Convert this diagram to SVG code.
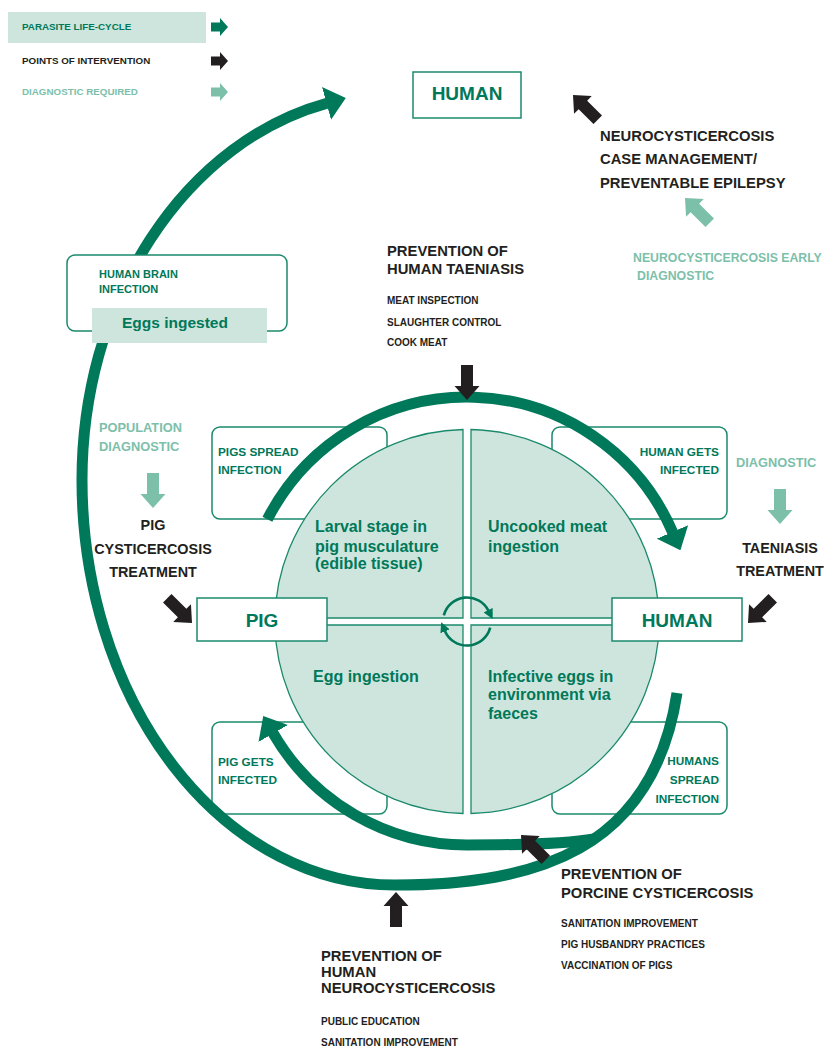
<svg xmlns="http://www.w3.org/2000/svg" xmlns:xlink="http://www.w3.org/1999/xlink" width="824" height="1047" viewBox="0 0 824 1047">
<style>
text{font-family:"Liberation Sans",Arial,sans-serif;font-weight:bold}
.g{fill:#00785a}
.k{fill:#231f20}
.d{fill:#7cc0aa}
.box{fill:#fff;stroke:#1b8a6c;stroke-width:1.5}
.q{fill:#cde5dc;stroke:#1b8a6c;stroke-width:1.3}
.flow{fill:none;stroke:#00785a;stroke-width:11}
.mini{fill:none;stroke:#00785a;stroke-width:2.6}
.lg{font-size:9.8px}
.h{font-size:14.8px}
.s{font-size:10px}
.bl{font-size:11.8px}
.qt{font-size:16px}
.dg{font-size:12.8px}
.tr{font-size:14.4px}
.nm{font-size:19px}
</style>
<defs>
<marker id="ah" markerUnits="userSpaceOnUse" markerWidth="20" markerHeight="34" viewBox="0 0 20 34" refX="0.5" refY="17" orient="auto"><path d="M0,0 L20,17 L0,34 Z" fill="#00785a"/></marker>
<marker id="ahs" markerUnits="userSpaceOnUse" markerWidth="10" markerHeight="10" viewBox="0 0 10 10" refX="0.5" refY="5" orient="auto"><path d="M0,0 L10,5 L0,10 Z" fill="#00785a"/></marker>
<path id="ba" d="M-35,-6 L-14,-6 L-14,-12.5 L0,0 L-14,12.5 L-14,6 L-35,6 Z"/>
<path id="la" d="M-17,-4.5 L-8,-4.5 L-8,-9 L0,0 L-8,9 L-8,4.5 L-17,4.5 Z"/>
</defs>

<g id="legend">
<rect x="8" y="12" width="198" height="31" fill="#cde5dc"/>
<text x="22" y="30" class="g lg">PARASITE LIFE-CYCLE</text>
<text x="22" y="64" class="k lg">POINTS OF INTERVENTION</text>
<text x="22" y="94.5" class="d lg">DIAGNOSTIC REQUIRED</text>
<use xlink:href="#la" href="#la" transform="translate(228,27)" fill="#00785a"/>
<use xlink:href="#la" href="#la" transform="translate(228,61)" fill="#231f20"/>
<use xlink:href="#la" href="#la" transform="translate(228,92)" fill="#7cc0aa"/>
</g>

<g id="pigs-spread">
<rect class="box" x="212" y="427" width="175" height="92" rx="8"/>
<text x="218" y="456" class="g bl">PIGS SPREAD</text>
<text x="218" y="474" class="g bl">INFECTION</text>
</g>
<g id="human-gets-infected">
<rect class="box" x="552" y="427" width="175" height="92" rx="8"/>
<text x="719" y="456" class="g bl" text-anchor="end">HUMAN GETS</text>
<text x="719" y="474" class="g bl" text-anchor="end">INFECTED</text>
</g>
<g id="pig-gets-infected">
<rect class="box" x="212" y="722" width="175" height="92" rx="8"/>
<text x="218" y="766" class="g bl">PIG GETS</text>
<text x="218" y="784" class="g bl">INFECTED</text>
</g>
<g id="humans-spread">
<rect class="box" x="552" y="722" width="175" height="92" rx="8"/>
<text x="719" y="765" class="g bl" text-anchor="end">HUMANS</text>
<text x="719" y="784" class="g bl" text-anchor="end">SPREAD</text>
<text x="719" y="803" class="g bl" text-anchor="end">INFECTION</text>
</g>

<g id="cycle-circle">
<path class="q" d="M463,618 L463,429.5 A192,192 0 0 0 275,618 Z"/>
<path class="q" d="M471,618 L659,618 A192,192 0 0 0 471,429.5 Z"/>
<path class="q" d="M463,625 L275,625 A192,192 0 0 0 463,813.5 Z"/>
<path class="q" d="M471,625 L471,813.5 A192,192 0 0 0 659,625 Z"/>
<text x="315" y="532" class="g qt">Larval stage in</text>
<text x="315" y="552" class="g qt">pig musculature</text>
<text x="315" y="569" class="g qt">(edible tissue)</text>
<text x="488" y="532" class="g qt">Uncooked meat</text>
<text x="488" y="552" class="g qt">ingestion</text>
<text x="313" y="682" class="g qt">Egg ingestion</text>
<text x="488" y="682" class="g qt">Infective eggs in</text>
<text x="488" y="700" class="g qt">environment via</text>
<text x="488" y="719" class="g qt">faeces</text>
</g>

<g id="connectors">
<path class="flow" marker-end="url(#ah)" d="M677,693 C653,851 535,885 395,885 A313,405 0 0 1 82,480 A313,386 0 0 1 327,103.2"/>
<path class="flow" marker-end="url(#ah)" d="M267.4,519.3 A224,224 0 0 1 672.7,532.4"/>
<path class="flow" marker-end="url(#ah)" d="M594,839 C560,845 500,845 467,845 A224,224 0 0 1 273,733"/>
<path class="mini" marker-end="url(#ahs)" d="M443.8,615.3 A24,24 0 0 1 488.4,610.6"/>
<path class="mini" marker-end="url(#ahs)" d="M490.2,627.7 A24,24 0 0 1 444.9,630.9"/>
</g>

<g id="human-brain">
<rect class="box" x="67" y="255" width="220" height="76" rx="8"/>
<text x="99" y="278" class="g" font-size="11px">HUMAN BRAIN</text>
<text x="99" y="292.7" class="g" font-size="11px">INFECTION</text>
<rect x="92" y="308" width="175" height="35" fill="#cde5dc"/>
<text x="122" y="327.5" class="g" font-size="15.5px">Eggs ingested</text>
</g>

<g id="human-top">
<rect class="box" x="413" y="72" width="108" height="46"/>
<text x="467" y="99.5" class="g nm" text-anchor="middle">HUMAN</text>
</g>
<g id="pig">
<rect class="box" x="197" y="598" width="130" height="43"/>
<text x="262" y="626.5" class="g nm" text-anchor="middle">PIG</text>
</g>
<g id="human">
<rect class="box" x="612" y="598" width="130" height="43"/>
<text x="677" y="626.5" class="g nm" text-anchor="middle">HUMAN</text>
</g>

<g id="nc-case-management">
<text x="600" y="140.5" class="k h">NEUROCYSTICERCOSIS</text>
<text x="600" y="164" class="k h">CASE MANAGEMENT/</text>
<text x="600" y="187.5" class="k h">PREVENTABLE EPILEPSY</text>
<use xlink:href="#ba" href="#ba" transform="translate(573,95) rotate(225)" fill="#231f20"/>
</g>
<g id="nc-early-diagnostic">
<text x="633" y="262" class="d" font-size="12.3px">NEUROCYSTICERCOSIS EARLY</text>
<text x="637" y="280" class="d" font-size="12.3px">DIAGNOSTIC</text>
<use xlink:href="#ba" href="#ba" transform="translate(685,198) rotate(225)" fill="#7cc0aa"/>
</g>
<g id="prevention-taeniasis">
<text x="387" y="255.5" class="k h">PREVENTION OF</text>
<text x="387" y="274" class="k h">HUMAN TAENIASIS</text>
<text x="387" y="304" class="k s">MEAT INSPECTION</text>
<text x="387" y="325.5" class="k s">SLAUGHTER CONTROL</text>
<text x="387" y="346" class="k s">COOK MEAT</text>
<use xlink:href="#ba" href="#ba" transform="translate(467,400) rotate(90)" fill="#231f20"/>
</g>
<g id="population-diagnostic">
<text x="99" y="431.5" class="d dg">POPULATION</text>
<text x="99" y="450.5" class="d dg">DIAGNOSTIC</text>
<use xlink:href="#ba" href="#ba" transform="translate(153,508) rotate(90)" fill="#7cc0aa"/>
</g>
<g id="pig-treatment">
<text x="153" y="530" class="k tr" text-anchor="middle">PIG</text>
<text x="153" y="554" class="k tr" text-anchor="middle">CYSTICERCOSIS</text>
<text x="153" y="576.5" class="k tr" text-anchor="middle">TREATMENT</text>
<use xlink:href="#ba" href="#ba" transform="translate(192,623) rotate(45)" fill="#231f20"/>
</g>
<g id="diagnostic-right">
<text x="736" y="467" class="d dg">DIAGNOSTIC</text>
<use xlink:href="#ba" href="#ba" transform="translate(780,524) rotate(90)" fill="#7cc0aa"/>
</g>
<g id="taeniasis-treatment">
<text x="780" y="553" class="k tr" text-anchor="middle">TAENIASIS</text>
<text x="780" y="576" class="k tr" text-anchor="middle">TREATMENT</text>
<use xlink:href="#ba" href="#ba" transform="translate(748,623) rotate(135)" fill="#231f20"/>
</g>
<g id="prevention-porcine">
<text x="561" y="879" class="k h">PREVENTION OF</text>
<text x="561" y="898" class="k h">PORCINE CYSTICERCOSIS</text>
<text x="561" y="927" class="k s">SANITATION IMPROVEMENT</text>
<text x="561" y="948" class="k s">PIG HUSBANDRY PRACTICES</text>
<text x="561" y="969" class="k s">VACCINATION OF PIGS</text>
<use xlink:href="#ba" href="#ba" transform="translate(521,835) rotate(225)" fill="#231f20"/>
</g>
<g id="prevention-neurocysticercosis">
<text x="321" y="960.5" class="k h">PREVENTION OF</text>
<text x="321" y="976.5" class="k h">HUMAN</text>
<text x="321" y="993" class="k h">NEUROCYSTICERCOSIS</text>
<text x="321" y="1025" class="k s">PUBLIC EDUCATION</text>
<text x="321" y="1046" class="k s">SANITATION IMPROVEMENT</text>
<use xlink:href="#ba" href="#ba" transform="translate(396,892) rotate(-90)" fill="#231f20"/>
</g>
</svg>
